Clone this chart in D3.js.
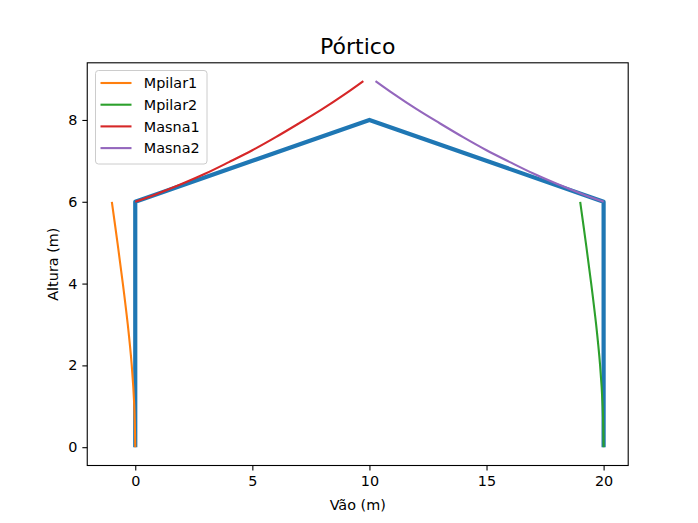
<!DOCTYPE html>
<html>
<head>
<meta charset="utf-8">
<script src="https://cdn.jsdelivr.net/npm/d3@7"></script>
<style>
  body { margin: 0; background: #fff; }
  text { font-family: "DejaVu Sans", sans-serif; }
</style>
</head>
<body>
<svg id="chart" width="698" height="523"></svg>
<script>
// Data
const porticoX = [0, 0, 10, 20, 20];
const porticoY = [0, 6, 8, 6, 0];

const mpilar1X = [0, -0.04, -0.15, -0.32, -0.53, -0.76, -1.0];
const mpilar1Y = [0, 1, 2, 3, 4, 5, 6];

const mpilar2X = [20, 19.96, 19.85, 19.68, 19.47, 19.24, 19.0];
const mpilar2Y = [0, 1, 2, 3, 4, 5, 6];

const masna1X = [0, 1, 2, 3, 4, 5, 6, 7, 8, 9, 9.74];
const masna1Y = [6.0, 6.21, 6.44, 6.69, 6.97, 7.26, 7.58, 7.92, 8.27, 8.65, 8.95];

const masna2X = [10.26, 11, 12, 13, 14, 15, 16, 17, 18, 19, 20];
const masna2Y = [8.95, 8.65, 8.27, 7.92, 7.58, 7.26, 6.97, 6.69, 6.44, 6.21, 6.0];

const xTicks = [0, 5, 10, 15, 20];
const yTicks = [0, 2, 4, 6, 8];

const seriesNames = ["Mpilar1", "Mpilar2", "Masna1", "Masna2"];
const seriesColors = ["#ff7f0e", "#2ca02c", "#d62728", "#9467bd"];

const chartTitle = "Pórtico";
const xLabel = "Vão (m)";
const yLabel = "Altura (m)";

// Layout
const W = 698, H = 523;
const mLeft = 87.25, mRight = 628.2, mTop = 62.8, mBottom = 465.5;
const fs = "14.4px";

const svg = d3.select("#chart");

const allX = [].concat(porticoX, mpilar1X, mpilar2X, masna1X, masna2X);
const allY = [].concat(porticoY, mpilar1Y, mpilar2Y, masna1Y, masna2Y);
const [xmin, xmax] = d3.extent(allX);
const [ymin, ymax] = d3.extent(allY);
const xm = (xmax - xmin) * 0.05, ym = (ymax - ymin) * 0.05;

const x = d3.scaleLinear().domain([xmin - xm, xmax + xm]).range([mLeft, mRight]);
const y = d3.scaleLinear().domain([ymin - ym, ymax + ym]).range([mBottom, mTop]);

const zip = (a, b) => a.map((v, i) => [v, b[i]]);
const straight = d3.line().x(d => x(d[0])).y(d => y(d[1]));
const smooth = d3.line().curve(d3.curveCatmullRom).x(d => x(d[0])).y(d => y(d[1]));

svg.append("defs").append("clipPath").attr("id", "clip")
  .append("rect").attr("x", mLeft).attr("y", mTop).attr("width", mRight - mLeft).attr("height", mBottom - mTop);

const g = svg.append("g").attr("clip-path", "url(#clip)");

g.append("path").attr("d", straight(zip(porticoX, porticoY)))
  .attr("fill", "none").attr("stroke", "#1f77b4").attr("stroke-width", 4.2)
  .attr("stroke-linejoin", "round").attr("stroke-linecap", "butt");

const seriesData = [zip(mpilar1X, mpilar1Y), zip(mpilar2X, mpilar2Y), zip(masna1X, masna1Y), zip(masna2X, masna2Y)];
seriesData.forEach((d, i) => {
  g.append("path").attr("d", smooth(d))
    .attr("fill", "none").attr("stroke", seriesColors[i]).attr("stroke-width", 2.1)
    .attr("stroke-linejoin", "round");
});

// Axes
const xAxis = d3.axisBottom(x).tickValues(xTicks).tickFormat(d3.format("d")).tickSize(4.9).tickPadding(4.9);
const yAxis = d3.axisLeft(y).tickValues(yTicks).tickFormat(d3.format("d")).tickSize(4.9).tickPadding(4.9);

const gx = svg.append("g").attr("transform", `translate(0,${mBottom})`).call(xAxis);
const gy = svg.append("g").attr("transform", `translate(${mLeft},0)`).call(yAxis);
[gx, gy].forEach(a => {
  a.select(".domain").remove();
  a.selectAll(".tick line").attr("stroke", "#000").attr("stroke-width", 1.1);
  a.selectAll(".tick text").attr("font-size", fs).attr("fill", "#000")
    .attr("font-family", "DejaVu Sans, sans-serif");
});

svg.append("rect").attr("x", mLeft).attr("y", mTop).attr("width", mRight - mLeft).attr("height", mBottom - mTop)
  .attr("fill", "none").attr("stroke", "#000").attr("stroke-width", 1.1);

// Title and labels
svg.append("text").attr("x", (mLeft + mRight) / 2).attr("y", 53.5).attr("text-anchor", "middle")
  .attr("font-size", "22px").text(chartTitle);
svg.append("text").attr("x", (mLeft + mRight) / 2).attr("y", 509.5).attr("text-anchor", "middle")
  .attr("font-size", fs).text(xLabel);
svg.append("text").attr("transform", `translate(58,${(mTop + mBottom) / 2}) rotate(-90)`)
  .attr("text-anchor", "middle").attr("font-size", fs).text(yLabel);

// Legend
const lg = svg.append("g");
lg.append("rect").attr("x", 95.5).attr("y", 70.5).attr("width", 111.5).attr("height", 93.5).attr("rx", 3)
  .attr("fill", "#fff").attr("fill-opacity", 0.8).attr("stroke", "#cccccc").attr("stroke-width", 1);
seriesNames.forEach((n, i) => {
  const yy = 83 + i * 21.7;
  lg.append("line").attr("x1", 100.5).attr("x2", 131.5).attr("y1", yy).attr("y2", yy)
    .attr("stroke", seriesColors[i]).attr("stroke-width", 2.1);
  lg.append("text").attr("x", 143.8).attr("y", yy + 5.2).attr("font-size", fs).text(n);
});
</script>
</body>
</html>
